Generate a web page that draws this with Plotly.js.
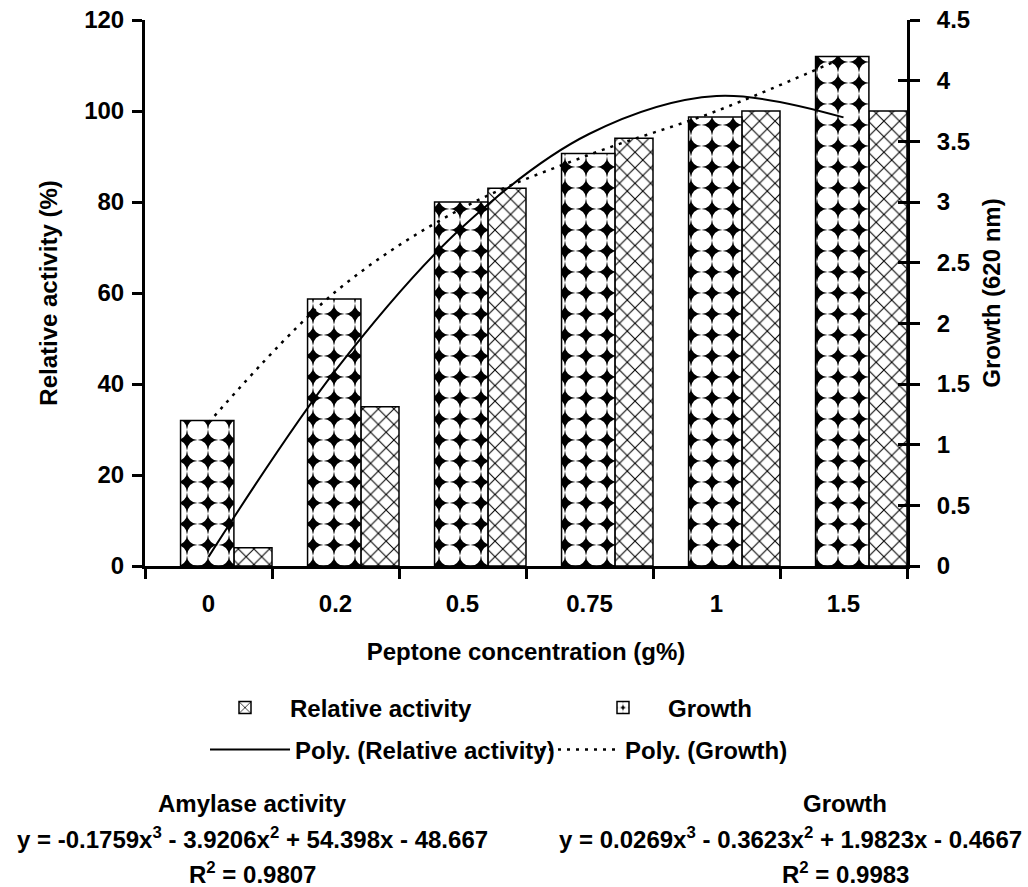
<!DOCTYPE html>
<html>
<head>
<meta charset="utf-8">
<script src="https://cdn.plot.ly/plotly-3.0.1.min.js"></script>
<style>
html,body{margin:0;padding:0;background:#fff;}
#chart{width:1028px;height:887px;}
</style>
</head>
<body>
<div id="chart"></div>
<script>
// ---- data ----
const categories = ['0', '0.2', '0.5', '0.75', '1', '1.5'];
const relativeActivity = [4, 35, 83, 94, 100, 100];          // left axis (%)
const growth = [1.2, 2.2, 3.0, 3.4, 3.7, 4.2];               // right axis (620 nm)
const polyRelativeActivity = [2, 43, 74.5, 95, 103.3, 98.6]; // trendline read at category centres
const polyGrowth = [1.18, 2.26, 2.95, 3.39, 3.75, 4.19];     // trendline read at category centres
const leftTicks = [0, 20, 40, 60, 80, 100, 120];
const rightTicks = [0, 0.5, 1, 1.5, 2, 2.5, 3, 3.5, 4, 4.5];

const FONT = 'Liberation Sans, Arial, Helvetica, sans-serif';
const f24 = {family: FONT, size: 24, color: '#000', weight: 'bold'};

const traces = [
  {
    type: 'bar', name: 'Relative activity', x: categories, y: relativeActivity, yaxis: 'y',
    offset: 0.2, width: 0.3, legend: 'legend',
    marker: {color: '#fff', line: {color: '#000', width: 1.5},
      pattern: {shape: 'x', fgcolor: '#000', bgcolor: '#fff', size: 11, solidity: 0.18, fillmode: 'replace'}}
  },
  {
    type: 'bar', name: 'Growth', x: categories, y: growth, yaxis: 'y2',
    offset: -0.22, width: 0.42, legend: 'legend2',
    marker: {color: '#000', line: {color: '#000', width: 1.5},
      pattern: {shape: '.', fgcolor: '#fff', bgcolor: '#000', size: 21, solidity: 0.78, fillmode: 'replace'}}
  },
  {
    type: 'scatter', mode: 'lines', name: 'Poly. (Growth)', x: categories, y: polyGrowth,
    yaxis: 'y3', legend: 'legend4',
    line: {color: '#000', width: 2.5, dash: '3px,6px', shape: 'spline', smoothing: 1}
  },
  {
    type: 'scatter', mode: 'lines', name: 'Poly. (Relative activity)', x: categories, y: polyRelativeActivity,
    yaxis: 'y4', legend: 'legend3',
    line: {color: '#000', width: 2, shape: 'spline', smoothing: 1}
  }
];

// plot area: x 145..907, y 20..566 (pixels)
const PX = v => (v - 145) / 762;
const PY = v => (566 - v) / 546;

function legendAt(x, y) {
  return {orientation: 'h', x: PX(x), y: PY(y), xanchor: 'left', yanchor: 'middle',
    bgcolor: 'rgba(0,0,0,0)', borderwidth: 0, font: f24, itemwidth: 80, tracegroupgap: 0};
}

const layout = {
  width: 1028, height: 887,
  margin: {l: 145, r: 121, t: 20, b: 321, pad: 0},
  paper_bgcolor: '#fff', plot_bgcolor: '#fff',
  font: f24,
  barmode: 'overlay',
  xaxis: {
    type: 'category', range: [-0.5, 5.5], tickson: 'boundaries',
    ticks: 'outside', ticklen: 10, tickwidth: 3, tickcolor: '#000',
    showline: true, linewidth: 3, linecolor: '#000', showgrid: false, zeroline: false,
    tickfont: f24, ticklabelstandoff: 14,
    title: {text: 'Peptone concentration (g%)', font: f24, standoff: 28}
  },
  yaxis: {
    range: [0, 120], tickvals: leftTicks, ticktext: leftTicks.map(String),
    ticks: 'outside', ticklen: 10, tickwidth: 3, tickcolor: '#000',
    showline: true, linewidth: 3, linecolor: '#000', showgrid: false, zeroline: false,
    tickfont: f24, ticklabelstandoff: 3,
    title: {text: 'Relative activity (%)', font: f24, standoff: 20}
  },
  yaxis2: {
    range: [0, 4.5], tickvals: rightTicks, ticktext: rightTicks.map(String),
    overlaying: 'y', side: 'right', anchor: 'x',
    ticks: 'outside', ticklen: 10, tickwidth: 3, tickcolor: '#000',
    showline: true, linewidth: 3, linecolor: '#000', showgrid: false, zeroline: false,
    tickfont: f24, ticklabelstandoff: 12,
    title: {text: 'Growth (620 nm)', font: f24, standoff: 15}
  },
  yaxis3: {
    range: [0, 4.5], tickvals: rightTicks, overlaying: 'y', side: 'right', anchor: 'x',
    ticks: 'inside', ticklen: 9, tickwidth: 3, tickcolor: '#000',
    showline: false, showgrid: false, zeroline: false, showticklabels: false
  },
  yaxis4: {
    range: [0, 120], overlaying: 'y', side: 'left', anchor: 'x', visible: false,
    showgrid: false, zeroline: false
  },
  showlegend: true,
  legend: legendAt(200, 708),
  legend2: legendAt(578, 708),
  legend3: legendAt(205, 750),
  legend4: legendAt(535, 750),
  annotations: [
    {xref: 'paper', yref: 'paper', x: PX(252), y: PY(803), text: 'Amylase activity', showarrow: false, font: f24, xanchor: 'center', yanchor: 'middle'},
    {xref: 'paper', yref: 'paper', x: PX(252), y: PY(838), text: 'y = -0.1759x<sup>3</sup> - 3.9206x<sup>2</sup> + 54.398x - 48.667', showarrow: false, font: f24, xanchor: 'center', yanchor: 'middle'},
    {xref: 'paper', yref: 'paper', x: PX(252), y: PY(873), text: 'R<sup>2</sup> = 0.9807', showarrow: false, font: f24, xanchor: 'center', yanchor: 'middle'},
    {xref: 'paper', yref: 'paper', x: PX(845), y: PY(803), text: 'Growth', showarrow: false, font: f24, xanchor: 'center', yanchor: 'middle'},
    {xref: 'paper', yref: 'paper', x: PX(790), y: PY(838), text: 'y = 0.0269x<sup>3</sup> - 0.3623x<sup>2</sup> + 1.9823x - 0.4667', showarrow: false, font: f24, xanchor: 'center', yanchor: 'middle'},
    {xref: 'paper', yref: 'paper', x: PX(845), y: PY(873), text: 'R<sup>2</sup> = 0.9983', showarrow: false, font: f24, xanchor: 'center', yanchor: 'middle'}
  ]
};

Plotly.newPlot('chart', traces, layout, {staticPlot: true, displayModeBar: false});
</script>
</body>
</html>
